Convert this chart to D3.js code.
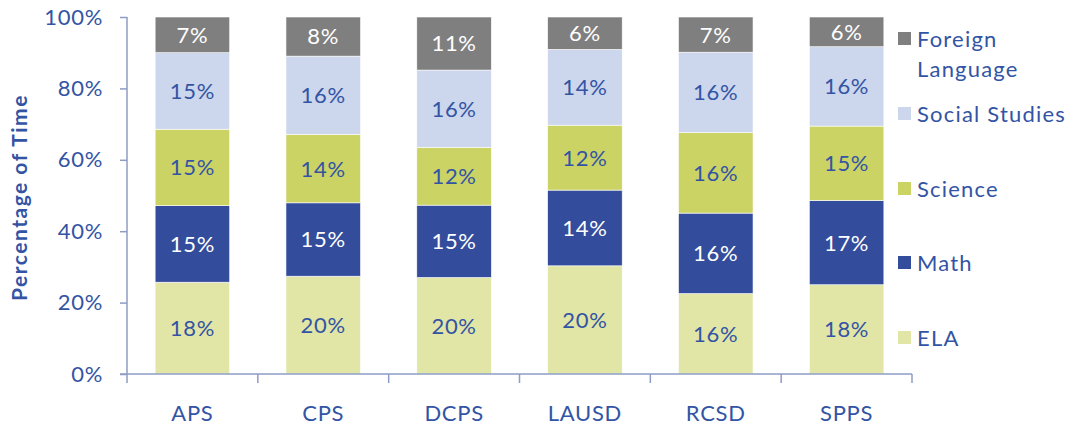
<!DOCTYPE html>
<html>
<head>
<meta charset="utf-8">
<script src="https://cdn.jsdelivr.net/npm/d3@7"></script>
<style>
  body { margin: 0; background: #fff; }
  svg text { font-family: Lato, "Open Sans", sans-serif; }
</style>
</head>
<body>
<svg id="chart" width="1076" height="425"></svg>
<script>
const districts = ['APS', 'CPS', 'DCPS', 'LAUSD', 'RCSD', 'SPPS'];
const subjects = ['ELA', 'Math', 'Science', 'Social Studies', 'Foreign Language'];
const ela = [18, 20, 20, 20, 16, 18];
const math = [15, 15, 15, 14, 16, 17];
const science = [15, 14, 12, 12, 16, 15];
const social = [15, 16, 16, 14, 16, 16];
const foreign = [7, 8, 11, 6, 7, 6];
const yTicks = [0, 0.2, 0.4, 0.6, 0.8, 1];

const colors = ['#e1e6a6', '#334c9c', '#cbd365', '#ccd6ec', '#7f7f7f'];
const labelColors = ['#3354a4', '#ffffff', '#3354a4', '#3354a4', '#ffffff'];
const textBlue = '#3354a4';
const axisColor = '#8e9cc6';
const fs = 22, ls = '0.7px', fw = 400;

const rows = districts.map((d, i) => ({
  district: d,
  'ELA': ela[i], 'Math': math[i], 'Science': science[i],
  'Social Studies': social[i], 'Foreign Language': foreign[i]
}));

const svg = d3.select('#chart');

const x = d3.scaleBand().domain(districts).range([127, 912])
  .paddingInner(0.43).paddingOuter(0.215);
const y = d3.scaleLinear().domain([0, 1]).range([374, 17]);

const series = d3.stack().keys(subjects).offset(d3.stackOffsetExpand)(rows);

// bars
const layer = svg.append('g').selectAll('g').data(series).enter().append('g')
  .attr('fill', (s, i) => colors[i]);
layer.selectAll('rect').data(s => s).enter().append('rect')
  .attr('x', d => x(d.data.district))
  .attr('width', x.bandwidth())
  .attr('y', d => y(d[1]))
  .attr('height', d => y(d[0]) - y(d[1]))
  .attr('stroke', '#ffffff').attr('stroke-width', 0.6);

// value labels
series.forEach((s, i) => {
  svg.append('g').selectAll('text').data(s).enter().append('text')
    .attr('x', d => x(d.data.district) + x.bandwidth() / 2)
    .attr('y', d => y((d[0] + d[1]) / 2))
    .attr('dy', '0.36em')
    .attr('text-anchor', 'middle')
    .attr('font-size', fs)
    .attr('font-weight', fw)
    .attr('letter-spacing', ls)
    .attr('fill', labelColors[i])
    .text(d => d.data[s.key] + '%');
});

// y axis
const yAxis = svg.append('g').attr('transform', 'translate(127,0)')
  .call(d3.axisLeft(y).tickValues(yTicks).tickFormat(d3.format('.0%')).tickSize(7).tickPadding(17));
yAxis.select('.domain').remove();
yAxis.selectAll('line').attr('stroke', axisColor).attr('stroke-width', 1.5);
yAxis.selectAll('text').attr('font-size', fs).attr('fill', textBlue)
  .attr('font-weight', fw).attr('letter-spacing', ls)
  .style('font-family', 'Lato, sans-serif');
svg.append('line').attr('x1', 127).attr('x2', 127).attr('y1', y(1)).attr('y2', 383)
  .attr('stroke', axisColor).attr('stroke-width', 1.5);

// x axis
svg.append('line').attr('x1', 120).attr('x2', 912).attr('y1', y(0)).attr('y2', y(0))
  .attr('stroke', axisColor).attr('stroke-width', 1.5);
const bounds = d3.range(districts.length + 1).map(i => x.range()[0] + i * x.step());
svg.append('g').selectAll('line').data(bounds.slice(1)).enter().append('line')
  .attr('x1', d => d).attr('x2', d => d).attr('y1', y(0)).attr('y2', 383)
  .attr('stroke', axisColor).attr('stroke-width', 1.5);
svg.append('g').selectAll('text').data(districts).enter().append('text')
  .attr('x', d => x(d) + x.bandwidth() / 2)
  .attr('y', 421)
  .attr('text-anchor', 'middle')
  .attr('font-size', fs)
  .attr('font-weight', fw)
  .attr('letter-spacing', ls)
  .attr('fill', textBlue)
  .text(d => d);

// y title
svg.append('text')
  .attr('transform', `translate(27,${(y(0) + y(1)) / 2 + 2}) rotate(-90)`)
  .attr('text-anchor', 'middle')
  .attr('font-size', 21)
  .attr('font-weight', 'bold')
  .attr('letter-spacing', '1.5px')
  .attr('fill', textBlue)
  .text('Percentage of Time');

// legend
const legendItems = [
  { key: 'Foreign Language', lines: ['Foreign', 'Language'], y: 32 },
  { key: 'Social Studies', lines: ['Social Studies'], y: 107 },
  { key: 'Science', lines: ['Science'], y: 182 },
  { key: 'Math', lines: ['Math'], y: 256 },
  { key: 'ELA', lines: ['ELA'], y: 331 }
];
const leg = svg.append('g').selectAll('g').data(legendItems).enter().append('g')
  .attr('transform', d => `translate(898,${d.y})`);
leg.append('rect').attr('width', 13).attr('height', 13)
  .attr('fill', d => colors[subjects.indexOf(d.key)]);
leg.append('text')
  .attr('x', 19)
  .attr('font-size', fs)
  .attr('font-weight', fw)
  .attr('letter-spacing', '1.2px')
  .attr('fill', textBlue)
  .selectAll('tspan').data(d => d.lines).enter().append('tspan')
  .attr('x', 19)
  .attr('y', (d, i) => 15 + i * 30)
  .text(d => d);
</script>
</body>
</html>
